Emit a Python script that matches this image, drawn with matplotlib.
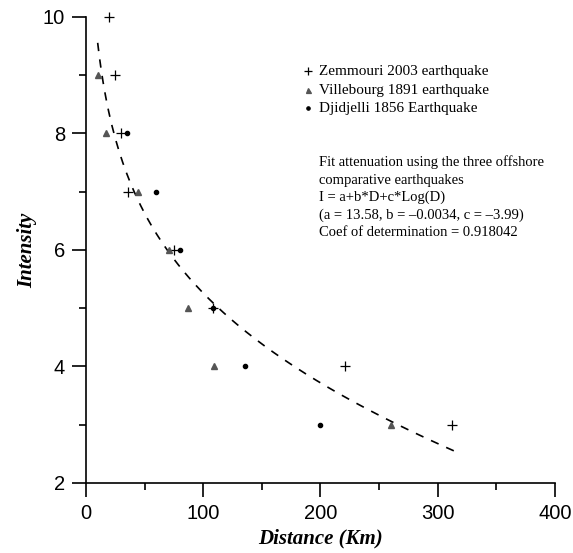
import matplotlib
matplotlib.use("Agg")
import matplotlib.pyplot as plt
from matplotlib.ticker import MultipleLocator
import numpy as np

zem_d = [20, 25, 30, 36, 75, 108, 221, 312]
zem_i = [10, 9, 8, 7, 6, 5, 4, 3]
vil_d = [10, 17, 44, 71, 87, 109, 260]
vil_i = [9, 8, 7, 6, 5, 4, 3]
dji_d = [35, 60, 80, 108, 136, 200]
dji_i = [8, 7, 6, 5, 4, 3]

# attenuation fit I = a + b*D + c*log10(D)
a, b, c = 13.58, -0.0034, -3.99
fit_d = np.linspace(10, 314, 200)
fit_i = a + b * fit_d + c * np.log10(fit_d)

serif = "Liberation Serif"
sans = "Liberation Sans"

fig = plt.figure(figsize=(5.73, 5.53), dpi=100)
ax = fig.add_axes([0.150, 0.1266, 0.8186, 0.8427])

ax.plot(fit_d, fit_i, color="black", lw=1.2, ls=(0, (5, 5)))
ax.plot(zem_d, zem_i, ls="none", marker="+", ms=6.5, mew=0.9, color="black", clip_on=False)
ax.plot(vil_d, vil_i, ls="none", marker="^", ms=4.5, color="#555555", mec="#555555", clip_on=False)
ax.plot(dji_d, dji_i, ls="none", marker="o", ms=3, color="black", clip_on=False)

ax.set_xlim(0, 400)
ax.set_ylim(2, 10)
ax.xaxis.set_major_locator(MultipleLocator(100))
ax.xaxis.set_minor_locator(MultipleLocator(50))
ax.yaxis.set_major_locator(MultipleLocator(2))
ax.yaxis.set_minor_locator(MultipleLocator(1))
for s in ["top", "right"]:
    ax.spines[s].set_visible(False)
for s in ["left", "bottom"]:
    ax.spines[s].set_linewidth(1.2)
ax.tick_params(which="major", direction="out", length=10, width=1.2, labelsize=14.5, pad=5)
ax.tick_params(which="minor", direction="out", length=5, width=1.2)
for lab in ax.get_xticklabels() + ax.get_yticklabels():
    lab.set_fontfamily(sans)

ax.set_xlabel("Distance (Km)", family=serif, fontsize=15, fontweight="bold", style="italic", labelpad=4)
ax.set_ylabel("Intensity", family=serif, fontsize=15, fontweight="bold", style="italic", labelpad=4)

# legend drawn as marker + text rows
leg = [("+", "black", "Zemmouri 2003 earthquake", 5.6),
       ("^", "#555555", "Villebourg 1891 earthquake", 3.6),
       ("o", "black", "Djidjelli 1856 Earthquake", 2.4)]
rows_y = [9.07, 8.74, 8.43]
for (m, col, txt, ms), yy in zip(leg, rows_y):
    ax.plot([189], [yy], ls="none", marker=m, ms=ms,
            mew=0.9, color=col, mec=col, clip_on=False)
    ax.text(199, yy, txt, family=serif, fontsize=11, va="center", ha="left")

fit_lines = ["Fit attenuation using the three offshore",
             "comparative earthquakes",
             "I = a+b*D+c*Log(D)",
             "(a = 13.58, b = \u20130.0034, c = \u20133.99)",
             "Coef of determination = 0.918042"]
for k, t in enumerate(fit_lines):
    ax.text(199, 7.50 - k * 0.3, t, family=serif, fontsize=10.5, va="center", ha="left")

fig.savefig("out.png", dpi=100)
